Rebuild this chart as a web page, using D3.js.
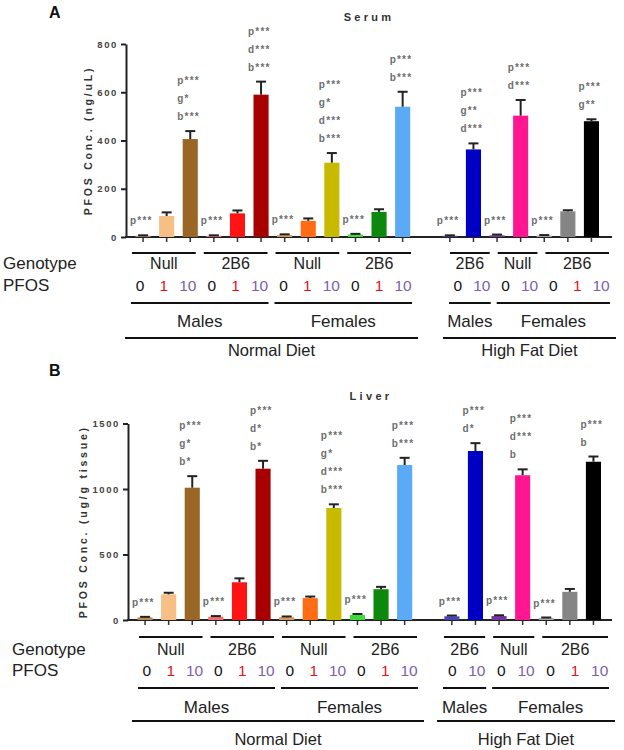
<!DOCTYPE html>
<html><head><meta charset="utf-8">
<script src="https://cdn.jsdelivr.net/npm/d3@7"></script>
<style>body{margin:0;background:#fff}svg{display:block}</style>
</head><body>
<script>
// ---------------- DATA ----------------
const genotypes     = ["Null","2B6","Null","2B6","2B6","Null","2B6"];
const genotypeSex   = ["Males","Males","Females","Females","Males","Females","Females"];
const genotypeDiet  = ["Normal Diet","Normal Diet","Normal Diet","Normal Diet","High Fat Diet","High Fat Diet","High Fat Diet"];
const genotypeDoses = [["0","1","10"],["0","1","10"],["0","1","10"],["0","1","10"],["0","10"],["0","10"],["0","1","10"]];
const dietNames = ["Normal Diet","High Fat Diet"];

const barColors = ["#B88A58","#F6BF86","#9A6626","#EE7070","#FF1414","#A80000","#D99A5E","#FF6C14","#C8BA00",
                   "#3ADC3A","#0C880C","#5AAAF6","#4444B8","#0000C4","#7434A4","#FF1690","#A8A8A8","#858585","#000000"];

const serumMean = [5, 87, 406, 5, 98, 590, 8, 67, 308, 10, 104, 540, 5, 363, 7, 503, 6, 106, 480];
const serumErr  = [2, 15, 33, 2, 12, 54, 3, 10, 40, 3, 11, 62, 2, 25, 3, 65, 2, 5, 8];
const serumStars = [["p***"],[],["p***","g*","b***"],["p***"],[],["p***","d***","b***"],["p***"],[],["p***","g*","d***","b***"],
                    ["p***"],[],["p***","b***"],["p***"],["p***","g**","d***"],["p***"],["p***","d***"],["p***"],[],["p***","g**"]];
const serumTicks = [0, 200, 400, 600, 800];

const liverMean = [20, 196, 1010, 25, 288, 1155, 22, 167, 855, 38, 235, 1183, 28, 1290, 30, 1105, 15, 215, 1208];
const liverErr  = [4, 12, 88, 5, 30, 60, 5, 12, 28, 8, 18, 55, 6, 60, 6, 45, 4, 22, 40];
const liverStars = [["p***"],[],["p***","g*","b*"],["p***"],[],["p***","d*","b*"],["p***"],[],["p***","g*","d***","b***"],
                    ["p***"],[],["p***","b***"],["p***"],["p***","d*"],["p***"],["p***","d***","b"],["p***"],[],["p***","b"]];
const liverTicks = [0, 500, 1000, 1500];

// ---------------- DERIVED ----------------
const bars = [];
genotypes.forEach((gt, gi) => genotypeDoses[gi].forEach((d, di) => {
  bars.push({key: genotypeDiet[gi] + "|" + genotypeSex[gi] + "|" + gt + "|" + d + "|" + gi, group: gi, dose: d});
}));
const slotKeys = [];
bars.forEach((b, i) => { slotKeys.push(b.key); if (i === 11) slotKeys.push("gap"); });

const FONT = "'Liberation Sans', Arial, Helvetica, sans-serif";
const doseColor = {"0": "#111", "1": "#E3131B", "10": "#7D5FAA"};

const svg = d3.select("body").append("svg").attr("width", 624).attr("height", 750);

function drawPanel(cfg) {
  const g = svg.append("g");
  const x = d3.scaleBand().domain(slotKeys).range(cfg.xRange).paddingInner(0.36).paddingOuter(0);
  const y = d3.scaleLinear().domain([0, cfg.yMax]).range([cfg.yBottom, cfg.yTop]);
  const cx = k => x(k) + x.bandwidth() / 2;

  // panel letter & title
  g.append("text").attr("x", 49).attr("y", cfg.letterY).attr("font-family", FONT).attr("font-weight", "bold")
    .attr("font-size", 16).attr("fill", "#111").text(cfg.letter);
  g.append("text").attr("x", cfg.titleX).attr("y", cfg.titleY).attr("text-anchor", "middle").attr("font-family", FONT)
    .attr("font-weight", "bold").attr("font-size", 11).attr("letter-spacing", 3.3).attr("fill", "#333").text(cfg.title);

  // y axis
  const ya = g.append("g").attr("transform", `translate(${cfg.axisX},0)`)
    .call(d3.axisLeft(y).tickValues(cfg.ticks).tickFormat(d3.format("d")).tickSize(5).tickPadding(3).tickSizeOuter(0));
  ya.select(".domain").attr("stroke", "#222").attr("stroke-width", 2);
  ya.selectAll(".tick line").attr("stroke", "#222").attr("stroke-width", 2);
  ya.selectAll(".tick text").attr("font-family", FONT).attr("font-weight", "bold").attr("font-size", 9.5)
    .attr("letter-spacing", 1.6).attr("fill", "#444");
  g.append("text").attr("transform", `translate(${cfg.ylabelX},${(cfg.yTop + cfg.yBottom) / 2}) rotate(-90)`)
    .attr("text-anchor", "middle").attr("font-family", FONT).attr("font-weight", "bold").attr("font-size", 10.5)
    .attr("letter-spacing", 2.8).attr("fill", "#333").text(cfg.ylabel);

  // x axis
  const xa = g.append("g").attr("transform", `translate(0,${cfg.yBottom})`)
    .call(d3.axisBottom(x).tickValues(bars.map(b => b.key)).tickSize(5).tickFormat(""));
  xa.select(".domain").remove();
  xa.selectAll(".tick line").attr("stroke", "#333").attr("stroke-width", 1.5);
  g.append("line").attr("x1", cfg.axisX - 1).attr("x2", cfg.axisEnd).attr("y1", cfg.yBottom).attr("y2", cfg.yBottom)
    .attr("stroke", "#222").attr("stroke-width", 2);

  // bars
  g.selectAll("rect.bar").data(bars).join("rect").attr("class", "bar")
    .attr("x", b => x(b.key)).attr("width", x.bandwidth())
    .attr("y", (b, i) => y(cfg.mean[i])).attr("height", (b, i) => y(0) - y(cfg.mean[i]))
    .attr("fill", (b, i) => barColors[i]);
  // error bars
  const eb = g.selectAll("g.err").data(bars).join("g").attr("class", "err");
  eb.append("line").attr("x1", b => cx(b.key)).attr("x2", b => cx(b.key))
    .attr("y1", (b, i) => y(cfg.mean[i])).attr("y2", (b, i) => y(cfg.mean[i] + cfg.err[i]))
    .attr("stroke", "#222").attr("stroke-width", 2);
  eb.append("line").attr("x1", b => cx(b.key) - 5).attr("x2", b => cx(b.key) + 5)
    .attr("y1", (b, i) => y(cfg.mean[i] + cfg.err[i])).attr("y2", (b, i) => y(cfg.mean[i] + cfg.err[i]))
    .attr("stroke", "#222").attr("stroke-width", 2);

  // significance annotations
  bars.forEach((b, i) => {
    const lines = cfg.stars[i];
    const base = y(cfg.mean[i] + cfg.err[i]) - 11;
    lines.forEach((t, j) => {
      g.append("text").attr("x", cx(b.key) - 13).attr("y", base - (lines.length - 1 - j) * 18)
        .attr("font-family", FONT).attr("font-weight", "bold").attr("font-size", 10).attr("letter-spacing", 1.2)
        .attr("fill", "#6e6e6e").text(t);
    });
  });

  // ---------- category table ----------
  const T = cfg.table;
  g.append("text").attr("x", T.leftX).attr("y", T.genoY).attr("font-family", FONT).attr("font-size", 17).attr("fill", "#222").text("Genotype");
  g.append("text").attr("x", T.leftX).attr("y", T.doseY).attr("font-family", FONT).attr("font-size", 17).attr("fill", "#222").text("PFOS");

  const lx = {
    "Normal Diet": d3.scaleLinear().domain([0, 12]).range(T.ndRange),
    "High Fat Diet": d3.scaleLinear().domain([0, 7]).range(T.hfdRange)
  };
  const slotStart = {};
  const counter = {"Normal Diet": 0, "High Fat Diet": 0};
  genotypes.forEach((gt, gi) => {
    const diet = genotypeDiet[gi], s = lx[diet];
    const a = counter[diet], n = genotypeDoses[gi].length;
    slotStart[gi] = [a, a + n];
    counter[diet] += n;
    const x0 = s(a), x1 = s(a + n);
    g.append("line").attr("x1", x0 + 4).attr("x2", x1 - 4).attr("y1", T.overY).attr("y2", T.overY)
      .attr("stroke", "#111").attr("stroke-width", 2);
    g.append("text").attr("x", (x0 + x1) / 2).attr("y", T.genoY).attr("text-anchor", "middle")
      .attr("font-family", FONT).attr("font-size", 16).attr("fill", "#222").text(gt);
    genotypeDoses[gi].forEach((d, di) => {
      g.append("text").attr("x", s(a + di + 0.5)).attr("y", T.doseY).attr("text-anchor", "middle")
        .attr("font-family", FONT).attr("font-size", 15.5).attr("fill", doseColor[d]).text(d);
    });
  });
  // sex groups
  const sexSpans = [];
  genotypes.forEach((gt, gi) => {
    const key = genotypeDiet[gi] + "|" + genotypeSex[gi];
    let sp = sexSpans.find(o => o.key === key);
    if (!sp) { sp = {key, diet: genotypeDiet[gi], sex: genotypeSex[gi], a: slotStart[gi][0], b: slotStart[gi][1]}; sexSpans.push(sp); }
    sp.b = slotStart[gi][1];
  });
  sexSpans.forEach(sp => {
    const s = lx[sp.diet], x0 = s(sp.a), x1 = s(sp.b);
    g.append("line").attr("x1", x0 + 3).attr("x2", x1 - 3).attr("y1", T.sexLineY).attr("y2", T.sexLineY)
      .attr("stroke", "#111").attr("stroke-width", 2);
    g.append("text").attr("x", (x0 + x1) / 2).attr("y", T.sexY).attr("text-anchor", "middle")
      .attr("font-family", FONT).attr("font-size", 17).attr("fill", "#222").text(sp.sex);
  });
  dietNames.forEach(dn => {
    const s = lx[dn], r = s.range();
    g.append("line").attr("x1", r[0] - 3).attr("x2", r[1] + 3).attr("y1", T.dietLineY).attr("y2", T.dietLineY)
      .attr("stroke", "#111").attr("stroke-width", 2);
    g.append("text").attr("x", (r[0] + r[1]) / 2).attr("y", T.dietY).attr("text-anchor", "middle")
      .attr("font-family", FONT).attr("font-size", 16.5).attr("fill", "#222").text(dn);
  });
}

drawPanel({
  letter: "A", letterY: 18, title: "Serum", titleX: 369, titleY: 21,
  yMax: 800, ticks: serumTicks, yTop: 44, yBottom: 237, axisX: 126, axisEnd: 612,
  xRange: [135.5, 599], ylabel: "PFOS Conc. (ng/uL)", ylabelX: 92,
  mean: serumMean, err: serumErr, stars: serumStars,
  table: {leftX: 3, overY: 253, genoY: 269, doseY: 291, sexLineY: 303, sexY: 327, dietLineY: 338, dietY: 356,
          ndRange: [128, 415], hfdRange: [446, 613]}
});
drawPanel({
  letter: "B", letterY: 376, title: "Liver", titleX: 371, titleY: 400,
  yMax: 1500, ticks: liverTicks, yTop: 423.5, yBottom: 620, axisX: 128, axisEnd: 612,
  xRange: [137.5, 601], ylabel: "PFOS Conc. (ug/g tissue)", ylabelX: 87,
  mean: liverMean, err: liverErr, stars: liverStars,
  table: {leftX: 12, overY: 637, genoY: 655, doseY: 676, sexLineY: 688, sexY: 713, dietLineY: 721, dietY: 745,
          ndRange: [135, 421], hfdRange: [440, 612]}
});
</script>
</body></html>
